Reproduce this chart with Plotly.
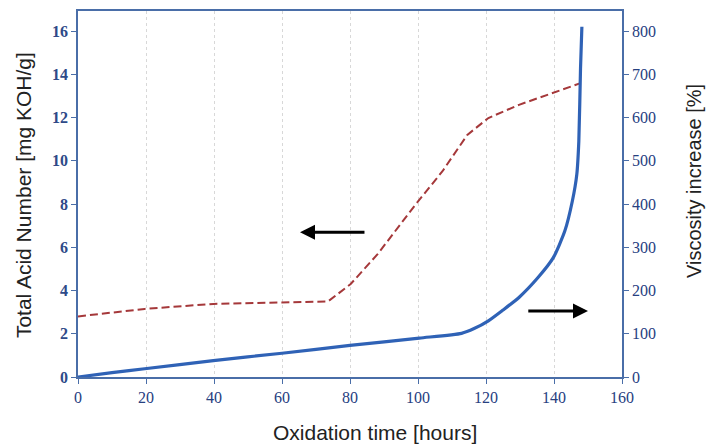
import plotly.graph_objects as go

# Total Acid Number (left axis)
tan_time = [0, 19.6, 39.8, 73.5, 80.2, 88.1, 99.3, 107.2, 114.5, 120.7, 129.7, 139.8, 147.6]
tan_vals = [2.8, 3.15, 3.38, 3.49, 4.3, 5.68, 7.98, 9.52, 11.2, 11.98, 12.59, 13.13, 13.58]

# Viscosity increase (right axis)
visc_time = [0, 10, 19.6, 39.8, 60, 80, 100.4, 112.8, 116.5, 120.7, 125, 129.7, 135.3, 139.8, 143.2, 145.4, 146.7, 147.3, 147.8, 148.2]
visc_vals = [0, 10, 19, 38, 55, 73, 90, 101, 112, 130, 155, 184, 230, 276, 338, 407, 468, 545, 714, 810]

x_ticks = [0, 20, 40, 60, 80, 100, 120, 140, 160]
left_ticks = [0, 2, 4, 6, 8, 10, 12, 14, 16]
right_ticks = [0, 100, 200, 300, 400, 500, 600, 700, 800]

x_title = "Oxidation time [hours]"
left_title = "Total Acid Number [mg KOH/g]"
right_title = "Viscosity increase [%]"

axis_col = "#4a6ea8"
tick_font = dict(family="Liberation Serif", size=16, color="#26407f")
left_tick_font = dict(family="Liberation Serif", size=16, color="#2e4a88", weight="bold")
title_font = dict(family="Liberation Sans", size=21, color="#222222")
right_title_font = dict(family="Liberation Sans", size=20, color="#222222")

fig = go.Figure()
fig.add_trace(go.Scatter(x=tan_time, y=tan_vals, mode="lines",
                         line=dict(color="#a5383a", width=2, dash="8px,4px"),
                         yaxis="y", showlegend=False))
fig.add_trace(go.Scatter(x=visc_time, y=visc_vals, mode="lines",
                         line=dict(color="#2f62b6", width=3.2, shape="spline", smoothing=0.6),
                         yaxis="y2", showlegend=False))

# arrows
fig.add_annotation(x=65.3, y=6.7, ax=84.7, ay=6.7, xref="x", yref="y", axref="x", ayref="y",
                   showarrow=True, arrowhead=2, arrowsize=1, arrowwidth=3, arrowcolor="black", text="")
fig.add_annotation(x=150, y=3.05, ax=132, ay=3.05, xref="x", yref="y", axref="x", ayref="y",
                   showarrow=True, arrowhead=2, arrowsize=1, arrowwidth=3, arrowcolor="black", text="")

# axis titles
fig.add_annotation(text=x_title, xref="paper", yref="paper", x=0.546, y=-0.153,
                   xanchor="center", yanchor="middle", showarrow=False, font=title_font)
fig.add_annotation(text=left_title, xref="paper", yref="paper", x=-0.1011, y=0.497,
                   xanchor="center", yanchor="middle", showarrow=False, font=title_font,
                   textangle=-90)
fig.add_annotation(text=right_title, xref="paper", yref="paper", x=1.1324, y=0.5355,
                   xanchor="center", yanchor="middle", showarrow=False, font=right_title_font,
                   textangle=-90)

fig.update_layout(
    width=707, height=445,
    margin=dict(l=78, r=85, t=11, b=68, autoexpand=False),
    paper_bgcolor="white", plot_bgcolor="white",
    xaxis=dict(range=[0, 160], tickvals=x_ticks, showgrid=True, gridcolor="#d8d8d8",
               griddash="dot", gridwidth=1, showline=True, linecolor=axis_col, linewidth=1.5,
               mirror=True, ticks="outside", ticklen=5, tickcolor=axis_col,
               tickfont=tick_font, zeroline=False, automargin=False),
    yaxis=dict(range=[0, 16.93], tickvals=left_ticks, showgrid=False, showline=True,
               linecolor=axis_col, linewidth=1.5, ticks="outside", ticklen=5,
               tickcolor=axis_col, tickfont=left_tick_font, zeroline=False, automargin=False),
    yaxis2=dict(range=[0, 846.5], tickvals=right_ticks, overlaying="y", side="right",
                showgrid=False, showline=True, linecolor=axis_col, linewidth=1.5,
                ticks="outside", ticklen=5, tickcolor=axis_col, tickfont=tick_font,
                zeroline=False, automargin=False),
)

fig.write_html("out.html", post_script="document.body.style.margin='0';",
               config={"displayModeBar": False})
